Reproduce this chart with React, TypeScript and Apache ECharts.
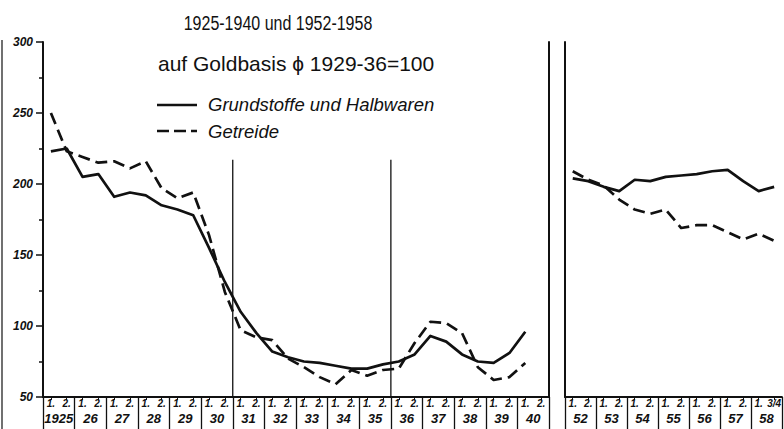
import React, { useEffect, useRef } from "react";
import * as echarts from "echarts";

// ---- data ----
const yearLabelsLeft = ["1925", "26", "27", "28", "29", "30", "31", "32", "33", "34", "35", "36", "37", "38", "39", "40"];
const halfLabelsLeft = yearLabelsLeft.flatMap(() => ["1.", "2."]);
const yearLabelsRight = ["52", "53", "54", "55", "56", "57", "58"];
const halfLabelsRight = ["1.", "2.", "1.", "2.", "1.", "2.", "1.", "2.", "1.", "2.", "1.", "2.", "1.", "3/4"];

const solidLeft = [223, 225, 205, 207, 191, 194, 192, 185, 182, 178, 155, 131, 110, 95, 82, 78, 75, 74, 72, 70, 70, 73, 75, 80, 93, 89, 80, 75, 74, 81, 96, null];
const dashLeft = [250, 223, 219, 215, 216, 211, 216, 197, 190, 194, 164, 124, 97, 92, 90, 77, 71, 64, 59, 69, 65, 69, 70, 88, 103, 102, 95, 71, 62, 64, 74, null];
const solidRight = [204, 202, 198, 195, 203, 202, 205, 206, 207, 209, 210, 202, 195, 198];
const dashRight = [209, 203, 199, 189, 182, 179, 182, 169, 171, 171, 166, 161, 165, 160];

const yMin = 50;
const yMax = 300;
const yInterval = 50;
// boundaries (in half-years from 1925) of the vertical separators 1931 and 1936
const separatorPositions = [12, 22];
const separatorTop = 217;

const titleText = "1925-1940 und 1952-1958";
const subtitleText = "auf Goldbasis \u03d5 1929-36=100";
const legendNames = ["Grundstoffe und Halbwaren", "Getreide"];

const FONT = '"Liberation Sans", Arial, sans-serif';
const INK = "#111";

export default function App() {
  const ref = useRef<HTMLDivElement>(null);

  useEffect(() => {
    if (!ref.current) return;
    const chart = echarts.init(ref.current, null, { renderer: "svg" });

    const lbl = { fontFamily: FONT, fontStyle: "italic", fontWeight: "bold", color: INK } as any;

    const halfAxis = (gridIndex: number, data: string[]) => ({
      gridIndex,
      type: "category",
      data,
      position: "bottom",
      boundaryGap: true,
      axisLine: { show: true, onZero: false, lineStyle: { color: INK, width: 2 } },
      axisTick: { show: true, alignWithLabel: true, interval: 0, length: 3, lineStyle: { color: INK, width: 1 } },
      axisLabel: { interval: 0, margin: 1, fontSize: 10, ...lbl },
      splitLine: { show: false },
    });
    const yearAxis = (gridIndex: number, data: string[]) => ({
      gridIndex,
      type: "category",
      data,
      position: "bottom",
      boundaryGap: true,
      axisLine: { show: false, onZero: false },
      axisTick: { show: true, interval: 0, length: 34, lineStyle: { color: INK, width: 1.3 } },
      axisLabel: { interval: 0, margin: 15, fontSize: 13, ...lbl },
      splitLine: { show: false },
    });

    const lineSeries = (x: number, y: number, data: any[], dashed: boolean) => ({
      type: "line",
      xAxisIndex: x,
      yAxisIndex: y,
      data,
      symbol: "none",
      silent: true,
      lineStyle: { color: INK, width: 2.7, type: dashed ? [12, 6] : "solid", join: "round" },
    });

    const option: any = {
      animation: false,
      backgroundColor: "#fff",
      grid: [
        { left: 43, top: 42, width: 506, height: 355 },
        { left: 565, top: 42, width: 220, height: 355 },
      ],
      xAxis: [
        halfAxis(0, halfLabelsLeft),
        yearAxis(0, yearLabelsLeft),
        { gridIndex: 0, type: "value", min: 0, max: halfLabelsLeft.length, show: false },
        halfAxis(1, halfLabelsRight),
        yearAxis(1, yearLabelsRight),
      ],
      yAxis: [
        {
          gridIndex: 0,
          type: "value",
          min: yMin,
          max: yMax,
          interval: yInterval,
          axisLine: { show: true, onZero: false, lineStyle: { color: INK, width: 2 } },
          axisTick: { show: true, length: 7, lineStyle: { color: INK, width: 1.5 } },
          minorTick: { show: true, splitNumber: 2, length: 4, lineStyle: { color: INK, width: 1.5 } },
          axisLabel: { margin: 10, fontSize: 12, ...lbl },
          splitLine: { show: false },
          minorSplitLine: { show: false },
        },
        {
          gridIndex: 1,
          type: "value",
          min: yMin,
          max: yMax,
          interval: yInterval,
          axisLine: { show: true, onZero: false, lineStyle: { color: INK, width: 2 } },
          axisTick: { show: false },
          axisLabel: { show: false },
          splitLine: { show: false },
        },
        {
          gridIndex: 0,
          type: "value",
          position: "right",
          min: yMin,
          max: yMax,
          interval: yInterval,
          axisLine: { show: true, onZero: false, lineStyle: { color: INK, width: 2 } },
          axisTick: { show: false },
          axisLabel: { show: false },
          splitLine: { show: false },
        },
      ],
      series: [
        lineSeries(0, 0, solidLeft, false),
        lineSeries(0, 0, dashLeft, true),
        lineSeries(3, 1, solidRight, false),
        lineSeries(3, 1, dashRight, true),
        ...separatorPositions.map((p) => ({
          type: "line",
          xAxisIndex: 2,
          yAxisIndex: 0,
          data: [
            [p, separatorTop],
            [p, yMin],
          ],
          symbol: "none",
          silent: true,
          lineStyle: { color: INK, width: 1.3 },
        })),
      ],
      graphic: [
        { type: "line", shape: { x1: 2, y1: 40, x2: 2, y2: 429 }, style: { stroke: INK, lineWidth: 1.2 } },
        {
          type: "text",
          x: 278,
          y: 23,
          scaleX: 0.8,
          style: { text: titleText, font: `20px ${FONT}`, fill: INK, textAlign: "center", textVerticalAlign: "middle" },
        },
        {
          type: "text",
          x: 158,
          y: 63,
          style: { text: subtitleText, font: `21px ${FONT}`, fill: INK, textAlign: "left", textVerticalAlign: "middle" },
        },
        { type: "line", shape: { x1: 157, y1: 105, x2: 197, y2: 105 }, style: { stroke: INK, lineWidth: 2.7 } },
        {
          type: "line",
          shape: { x1: 157, y1: 131, x2: 197, y2: 131 },
          style: { stroke: INK, lineWidth: 2.7, lineDash: [12, 5] },
        },
        {
          type: "text",
          x: 208,
          y: 104,
          style: { text: legendNames[0], font: `italic 18.5px ${FONT}`, fill: INK, textAlign: "left", textVerticalAlign: "middle" },
        },
        {
          type: "text",
          x: 208,
          y: 131,
          style: { text: legendNames[1], font: `italic 18.5px ${FONT}`, fill: INK, textAlign: "left", textVerticalAlign: "middle" },
        },
      ],
    };

    chart.setOption(option);
    return () => chart.dispose();
  }, []);

  return (
    <div
      ref={ref}
      style={{ position: "fixed", left: 0, top: 0, width: 784, height: 429, background: "#fff" }}
    />
  );
}
